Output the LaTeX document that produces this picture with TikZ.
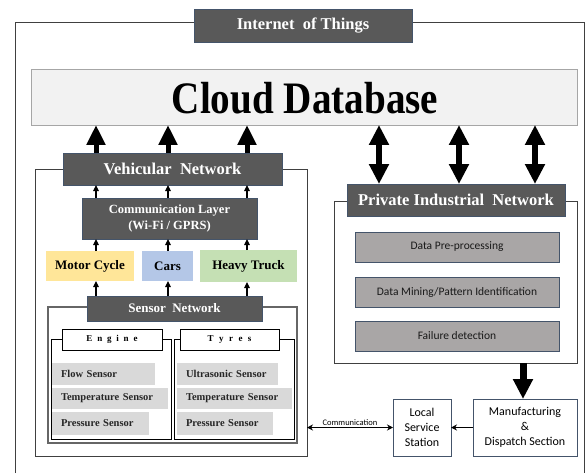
\documentclass[tikz,border=0pt]{standalone}
\usepackage{graphicx}
\usepackage{fontspec}
\setmainfont{Liberation Serif}
\newfontfamily\calibri{Carlito}
\usetikzlibrary{arrows.meta}

\definecolor{boxdark}{HTML}{595959}
\definecolor{boxedge}{HTML}{44546A}
\definecolor{cloudfill}{HTML}{F2F2F2}
\definecolor{cloudedge}{HTML}{A6A6A6}
\definecolor{mcyc}{HTML}{FFE699}
\definecolor{carfill}{HTML}{B4C7E7}
\definecolor{truckfill}{HTML}{C5E0B4}
\definecolor{itemfill}{HTML}{D9D9D9}
\definecolor{procfill}{HTML}{A9A6A6}
\definecolor{frameline}{HTML}{404040}

\newcommand{\spaced}[1]{#1}

\begin{document}
\begin{tikzpicture}[x=1pt,y=-1pt,
  every node/.style={inner sep=0pt,outer sep=0pt},
  darkbox/.style={draw=boxedge,line width=0.9pt,fill=boxdark,text=white,
    font=\bfseries},
  framebox/.style={draw=frameline,line width=0.9pt},
  sensorframe/.style={draw=gray!80!black,line width=1.4pt,double=white,double distance=0pt},
  vehbox/.style={font=\fontsize{13}{15}\selectfont\bfseries},
  itembox/.style={fill=itemfill,inner xsep=9pt,align=left,
    font=\fontsize{10.5}{12}\selectfont\bfseries,text=black!85},
  procbox/.style={draw=boxedge,line width=0.8pt,fill=procfill,
    font=\calibri\fontsize{11.5}{13}\selectfont,text=black!90},
  sitebox/.style={draw=boxedge,line width=0.8pt,fill=white,align=center,
    font=\calibri\fontsize{12}{15}\selectfont},
  subtitle/.style={draw=black,line width=0.8pt,fill=white,
    font=\fontsize{9}{10}\selectfont\bfseries},
  bigup/.style={line width=5pt,-{Triangle[width=18pt,length=20pt]}},
  bigboth/.style={line width=6pt,{Triangle[width=19pt,length=20pt]}-{Triangle[width=19pt,length=20pt]}},
  bigdown/.style={line width=7pt,-{Triangle[width=19pt,length=20pt]}},
  smallup/.style={line width=1.1pt,-{Triangle[width=5.5pt,length=6pt]}},
  thinarrow/.style={line width=1pt,-{Stealth[width=6pt,length=6pt]}},
  thinboth/.style={line width=1pt,{Stealth[width=6pt,length=6pt]}-{Stealth[width=6pt,length=6pt]}}
]
\useasboundingbox (0,0) rectangle (585,473);

% column positions of the vertical links
\coordinate (c1) at (96,0);
\coordinate (c2) at (168,0);
\coordinate (c3) at (247,0);
\coordinate (d1) at (379,0);
\coordinate (d2) at (459,0);
\coordinate (d3) at (535,0);
\coordinate (m1) at (523,0);

% outer IoT frame (open at the bottom)
\coordinate (iotbl) at (15,473);
\coordinate (iottl) at (15,22);
\coordinate (iottr) at (584,22);
\coordinate (iotbr) at (584,473);
\draw[draw=frameline,line width=0.9pt] (iotbl) -- (iottl) -- (iottr) -- (iotbr);
\node[darkbox,minimum width=218,minimum height=33,
  font=\fontsize{16.5}{18}\selectfont\bfseries] (iot) at (303,25.5) {Internet\ \ of Things};

% cloud database
\node[draw=cloudedge,line width=0.9pt,fill=cloudfill,minimum width=546,minimum height=56]
  (cloud) at (304,97) {};
\node (cloudtxt) at (305,98.5)
  {\scalebox{0.87}[1]{\fontsize{45}{45}\selectfont\bfseries Cloud Database}};

% vehicular network
\node[framebox,minimum width=272,minimum height=287] (vframe) at (171,312.5) {};
\node[darkbox,minimum width=219,minimum height=32,
  font=\fontsize{16.5}{18}\selectfont\bfseries] (veh) at (172.5,169) {Vehicular\ \ Network};
\node[darkbox,minimum width=175,minimum height=41,align=center,
  font=\fontsize{12.5}{16}\selectfont\bfseries] (comm) at (169.5,218.5)
  {Communication Layer\\(Wi-Fi / GPRS)};
\node[vehbox,fill=mcyc,minimum width=88,minimum height=30] (moto) at (90,266) {Motor Cycle};
\node[vehbox,fill=carfill,minimum width=51,minimum height=30] (cars) at (167.5,266) {Cars};
\node[vehbox,fill=truckfill,minimum width=97,minimum height=32] (truck) at (248.5,266) {Heavy Truck};

% sensor network
\node[sensorframe,minimum width=249,minimum height=136] (sframe) at (172.5,375) {};
\node[darkbox,minimum width=175,minimum height=25,
  font=\fontsize{13}{15}\selectfont\bfseries] (sens) at (174.5,308.5) {Sensor\ \ Network};

\node[framebox,draw=black,minimum width=120,minimum height=100] (engf) at (111,389) {};
\node[framebox,draw=black,minimum width=120,minimum height=100] (tyrf) at (234,389) {};
\node[subtitle,minimum width=100,minimum height=21] (engt) at (112,339.5)
  {E\kern4.8pt n\kern4.8pt g\kern4.8pt i\kern4.8pt n\kern4.8pt e};
\node[subtitle,minimum width=99,minimum height=21] (tyrt) at (229.5,339.5)
  {T\kern5.5pt y\kern5.5pt r\kern5.5pt e\kern5.5pt s};

\node[itembox,anchor=west,text width=85,minimum height=22] (eflow) at (52,374) {Flow Sensor};
\node[itembox,anchor=west,text width=98,minimum height=21] (etemp) at (52,398.5) {Temperature Sensor};
\node[itembox,anchor=west,text width=79,minimum height=23] (epres) at (52,423.5) {Pressure Sensor};
\node[itembox,anchor=west,text width=83,minimum height=22] (tultra) at (177,374) {Ultrasonic Sensor};
\node[itembox,anchor=west,text width=97,minimum height=21] (ttemp) at (177,398.5) {Temperature Sensor};
\node[itembox,anchor=west,text width=78,minimum height=23] (tpres) at (177,423.5) {Pressure Sensor};

% private industrial network
\node[framebox,minimum width=243,minimum height=162] (pframe) at (455.5,282) {};
\node[darkbox,minimum width=218,minimum height=32,
  font=\fontsize{16.5}{18}\selectfont\bfseries] (pin) at (456,200) {Private Industrial\ \ Network};
\node[procbox,minimum width=204,minimum height=30] (pre) at (457,247) {Data Pre-processing};
\node[procbox,minimum width=204,minimum height=30] (mine) at (457,292) {Data Mining/Pattern Identification};
\node[procbox,minimum width=204,minimum height=30] (fail) at (457,336) {Failure detection};

% manufacturing and service
\node[sitebox,minimum width=104,minimum height=57] (manu) at (525,427.5)
  {Manufacturing\\\&\\Dispatch Section};
\node[sitebox,minimum width=58,minimum height=57] (local) at (422,427.5)
  {Local\\Service\\Station};

% thick links to the cloud
\draw[bigup] (veh.north -| c1) -- (cloud.south -| c1);
\draw[bigup] (veh.north -| c2) -- (cloud.south -| c2);
\draw[bigup] (veh.north -| c3) -- (cloud.south -| c3);
\draw[bigboth] (cloud.south -| d1) -- (pin.north -| d1);
\draw[bigboth] (cloud.south -| d2) -- (pin.north -| d2);
\draw[bigboth] (cloud.south -| d3) -- (pin.north -| d3);
\draw[bigdown] (pframe.south -| m1) -- (manu.north -| m1);

% small links inside the vehicular network
\draw[smallup] (comm.north -| c1) -- (veh.south -| c1);
\draw[smallup] (comm.north -| c2) -- (veh.south -| c2);
\draw[smallup] (comm.north -| c3) -- (veh.south -| c3);
\draw[smallup] (moto.north -| c1) -- (comm.south -| c1);
\draw[smallup] (cars.north -| c2) -- (comm.south -| c2);
\draw[smallup] (truck.north -| c3) -- (comm.south -| c3);
\draw[smallup] (sens.north -| c1) -- (moto.south -| c1);
\draw[smallup] (sens.north -| c2) -- (cars.south -| c2);
\draw[smallup] (sens.north -| c3) -- (truck.south -| c3);

% service links
\draw[thinarrow] (manu.west) -- (local.west -| local.east);
\draw[thinboth] (vframe.east |- local.west) -- node[above=2pt,
  font=\calibri\fontsize{8.5}{9}\selectfont] (commlbl) {Communication} (local.west);
\end{tikzpicture}
\end{document}
